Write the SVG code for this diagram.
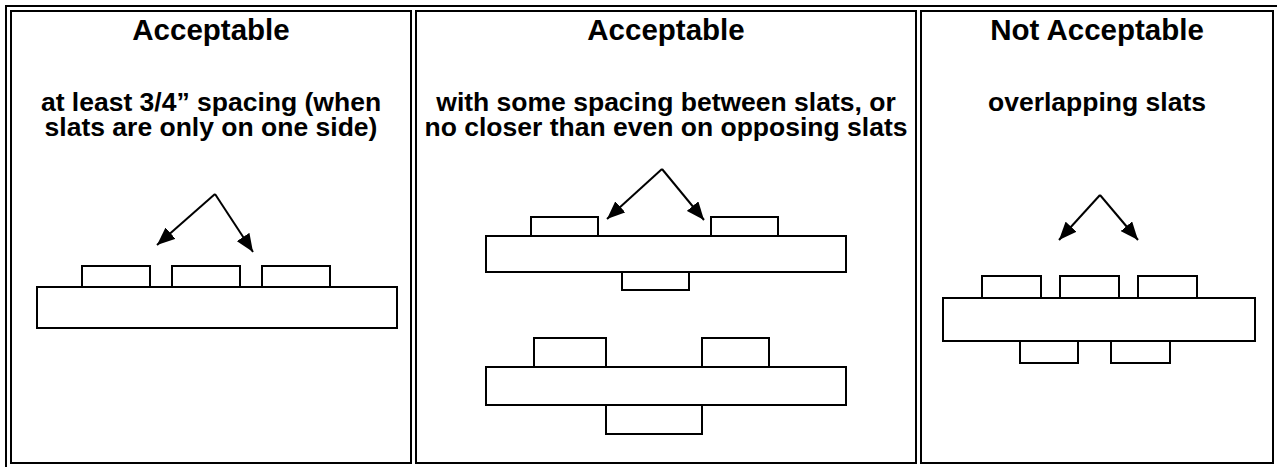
<svg xmlns="http://www.w3.org/2000/svg" width="1277" height="467" viewBox="0 0 1277 467">
<style>
.frame{fill:none;stroke:#000;stroke-width:2}
.cell{fill:#fff;stroke:#000;stroke-width:2}
.box{fill:#fff;stroke:#000;stroke-width:2}
.title{font-family:"Liberation Sans",Arial,sans-serif;font-weight:bold;font-size:29.5px;text-anchor:middle;fill:#000}
.sub{font-family:"Liberation Sans",Arial,sans-serif;font-weight:bold;font-size:26.5px;text-anchor:middle;fill:#000}
.arrow{fill:none;stroke:#000;stroke-width:2;marker-end:url(#ah)}
</style>
<defs>
<marker id="ah" markerUnits="userSpaceOnUse" markerWidth="18" markerHeight="15" refX="18" refY="7.5" orient="auto">
<path d="M0,0 L18,7.5 L0,15 z" fill="#000"/>
</marker>
</defs>
<rect width="1277" height="467" fill="#fff"/>
<rect id="outer" class="frame" x="6" y="6" width="1290" height="480"/>

<g id="cell1">
<rect class="cell" x="11" y="11" width="400" height="452"/>
<text class="title" x="211" y="40">Acceptable</text>
<text class="sub" x="211" y="111">at least 3/4” spacing (when</text>
<text class="sub" x="211" y="136">slats are only on one side)</text>
<rect class="box" x="37" y="287" width="360" height="41"/>
<rect class="box" x="82" y="266" width="68" height="21"/>
<rect class="box" x="172" y="266" width="68" height="21"/>
<rect class="box" x="262" y="266" width="68" height="21"/>
</g>

<g id="cell2">
<rect class="cell" x="416" y="11" width="500" height="452"/>
<text class="title" x="666" y="40">Acceptable</text>
<text class="sub" x="666" y="111">with some spacing between slats, or</text>
<text class="sub" x="666" y="136">no closer than even on opposing slats</text>
<rect class="box" x="486" y="236" width="360" height="36"/>
<rect class="box" x="531" y="217" width="67" height="19"/>
<rect class="box" x="711" y="217" width="67" height="19"/>
<rect class="box" x="622" y="272" width="67" height="18"/>
<rect class="box" x="486" y="367" width="360" height="38"/>
<rect class="box" x="534" y="338" width="72" height="29"/>
<rect class="box" x="702" y="338" width="67" height="29"/>
<rect class="box" x="606" y="405" width="96" height="29"/>
</g>

<g id="cell3">
<rect class="cell" x="921" y="11" width="352" height="452"/>
<text class="title" x="1097" y="40">Not Acceptable</text>
<text class="sub" x="1097" y="111">overlapping slats</text>
<rect class="box" x="943" y="298" width="312" height="43"/>
<rect class="box" x="982" y="276" width="59" height="22"/>
<rect class="box" x="1060" y="276" width="59" height="22"/>
<rect class="box" x="1138" y="276" width="59" height="22"/>
<rect class="box" x="1020" y="341" width="58" height="22"/>
<rect class="box" x="1111" y="341" width="59" height="22"/>
</g>

<g id="connectors">
<line class="arrow" x1="215" y1="194" x2="157" y2="245"/>
<line class="arrow" x1="215" y1="194" x2="253" y2="252"/>
<line class="arrow" x1="662" y1="169" x2="607" y2="219"/>
<line class="arrow" x1="662" y1="169" x2="704" y2="220"/>
<line class="arrow" x1="1100" y1="195" x2="1059" y2="240"/>
<line class="arrow" x1="1100" y1="195" x2="1138" y2="240"/>
</g>
</svg>
